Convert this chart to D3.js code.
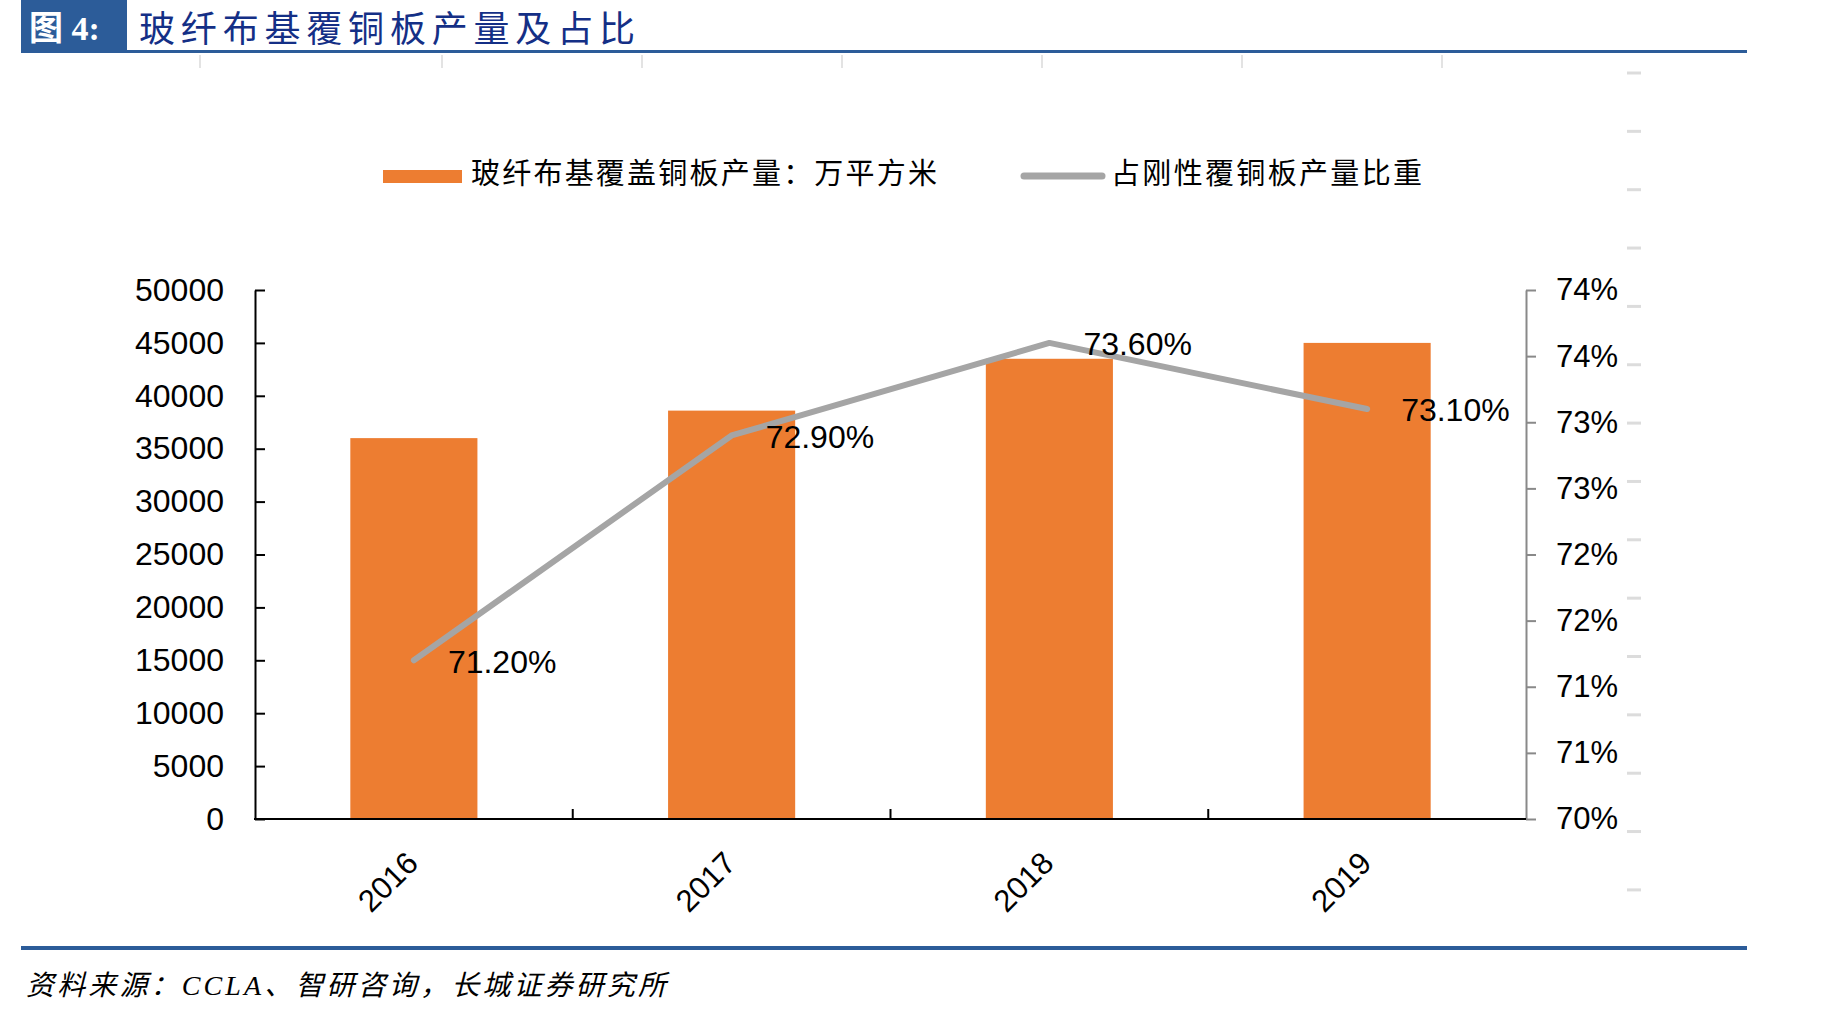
<!DOCTYPE html>
<html>
<head>
<meta charset="utf-8">
<script src="https://cdn.jsdelivr.net/npm/d3@7"></script>
<style>
  body { margin: 0; background: #fff; }
  svg { display: block; }
</style>
</head>
<body>
<div id="chart"></div>
<script>
// data
const years = ["2016", "2017", "2018", "2019"];
const output = [36000, 38600, 43500, 45000];          // 万平方米
const share = [0.712, 0.729, 0.736, 0.731];
const shareLabels = ["71.20%", "72.90%", "73.60%", "73.10%"];
const leftTicks = [0, 5000, 10000, 15000, 20000, 25000, 30000, 35000, 40000, 45000, 50000];
const rightTicks = [0.700, 0.705, 0.710, 0.715, 0.720, 0.725, 0.730, 0.735, 0.740];
const rightTickLabels = ["70%", "71%", "71%", "72%", "72%", "73%", "73%", "74%", "74%"];

const W = 1843, H = 1016;
const cjk = "'Noto Sans CJK SC', sans-serif";
const latin = "'Liberation Sans', Arial, 'Noto Sans CJK SC', sans-serif";

let svg = d3.select("#chart")
  .append("svg")
  .attr("width", W)
  .attr("height", H);

svg.append("rect").attr("width", W).attr("height", H).attr("fill", "#fff");

// header
svg.append("rect").attr("x", 21).attr("y", 0).attr("width", 106).attr("height", 52).attr("fill", "#2C5C99");
svg.append("text")
  .attr("x", 29).attr("y", 40)
  .attr("fill", "#fff")
  .style("font-family", "'Liberation Serif', 'Noto Sans CJK SC', serif")
  .style("font-size", "34px")
  .style("font-weight", "bold")
  .text("图 4:");
svg.append("text")
  .attr("x", 139).attr("y", 42)
  .attr("fill", "#142F86")
  .style("font-family", cjk)
  .style("font-size", "36px")
  .attr("textLength", 496)
  .text("玻纤布基覆铜板产量及占比");
svg.append("rect").attr("x", 21).attr("y", 50).attr("width", 1726).attr("height", 3).attr("fill", "#2C5C99");

// faint frame marks left over from the source picture
let topMarks = [200].concat(d3.range(442, 1443, 200));
svg.selectAll(".top-mark").data(topMarks).enter().append("line")
  .attr("x1", d => d).attr("x2", d => d)
  .attr("y1", 55).attr("y2", 68)
  .attr("stroke", "#e3e3e3").attr("stroke-width", 2);
svg.selectAll(".right-mark").data(d3.range(15)).enter().append("line")
  .attr("x1", 1627).attr("x2", 1641)
  .attr("y1", i => 73 + i * 58.35).attr("y2", i => 73 + i * 58.35)
  .attr("stroke", "#dcdcdc").attr("stroke-width", 3);

// scales
let margin = {left: 255, right: 1526, top: 290, bottom: 819};

let x = d3.scaleBand()
  .domain(years)
  .range([margin.left, margin.right])
  .paddingInner(0.6)
  .paddingOuter(0.3);

let yL = d3.scaleLinear().domain([0, 50000]).range([margin.bottom, margin.top]);
let yR = d3.scaleLinear().domain([0.70, 0.74]).range([margin.bottom, margin.top]);

// bars
svg.selectAll(".bar").data(years).enter().append("rect")
  .attr("x", d => x(d))
  .attr("y", (d, i) => yL(output[i]))
  .attr("width", x.bandwidth())
  .attr("height", (d, i) => yL(0) - yL(output[i]))
  .attr("fill", "#ED7D31");

// left axis
let gl = svg.append("g")
  .attr("transform", "translate(" + margin.left + ",0)")
  .call(d3.axisLeft(yL).tickValues(leftTicks).tickSizeInner(-10).tickSizeOuter(0).tickPadding(31)
    .tickFormat(d3.format("d")));
gl.select(".domain").attr("stroke", "#000").attr("stroke-width", 2);
gl.selectAll(".tick line").attr("stroke", "#000").attr("stroke-width", 2);
gl.selectAll(".tick text")
  .attr("fill", "#000")
  .style("font-family", latin)
  .style("font-size", "32px");

// right axis
let gr = svg.append("g")
  .attr("transform", "translate(" + margin.right + ",0)")
  .call(d3.axisRight(yR).tickValues(rightTicks).tickSizeInner(10).tickSizeOuter(0).tickPadding(20)
    .tickFormat((d, i) => rightTickLabels[i]));
gr.select(".domain").attr("stroke", "#898989").attr("stroke-width", 2);
gr.selectAll(".tick line").attr("stroke", "#898989").attr("stroke-width", 2);
gr.selectAll(".tick text")
  .attr("fill", "#000")
  .style("font-family", latin)
  .style("font-size", "31px");

// bottom axis
svg.append("line")
  .attr("x1", margin.left - 1).attr("x2", margin.right)
  .attr("y1", margin.bottom).attr("y2", margin.bottom)
  .attr("stroke", "#000").attr("stroke-width", 2);
svg.selectAll(".cat-tick").data(years.slice(1)).enter().append("line")
  .attr("x1", d => x(d) - x.step() * x.paddingOuter())
  .attr("x2", d => x(d) - x.step() * x.paddingOuter())
  .attr("y1", margin.bottom).attr("y2", margin.bottom - 10)
  .attr("stroke", "#000").attr("stroke-width", 2);
svg.selectAll(".cat-label").data(years).enter().append("text")
  .attr("transform", d => "translate(" + (x(d) + x.bandwidth() / 2 + 6) + "," + (margin.bottom + 46) + ") rotate(-45)")
  .attr("text-anchor", "end")
  .attr("fill", "#000")
  .style("font-family", latin)
  .style("font-size", "31px")
  .text(d => d);

// share line
let cx = d => x(d) + x.bandwidth() / 2;
svg.append("path")
  .datum(years)
  .attr("fill", "none")
  .attr("stroke", "#A5A5A5")
  .attr("stroke-width", 6)
  .attr("stroke-linecap", "round")
  .attr("stroke-linejoin", "round")
  .attr("d", d3.line()
    .x(d => cx(d))
    .y((d, i) => yR(share[i]))
  );

svg.selectAll(".share-label").data(years).enter().append("text")
  .attr("x", d => cx(d) + 34)
  .attr("y", (d, i) => yR(share[i]) + 4)
  .attr("dominant-baseline", "middle")
  .attr("fill", "#000")
  .style("font-family", latin)
  .style("font-size", "32px")
  .text((d, i) => shareLabels[i]);

// legend
svg.append("rect").attr("x", 383).attr("y", 170).attr("width", 79).attr("height", 13).attr("fill", "#ED7D31");
svg.append("text")
  .attr("x", 471).attr("y", 176)
  .attr("dominant-baseline", "middle")
  .attr("fill", "#000")
  .style("font-family", cjk)
  .style("font-size", "29px")
  .attr("textLength", 466)
  .text("玻纤布基覆盖铜板产量：万平方米");
svg.append("line")
  .attr("x1", 1024).attr("x2", 1102).attr("y1", 176).attr("y2", 176)
  .attr("stroke", "#A5A5A5").attr("stroke-width", 7).attr("stroke-linecap", "round");
svg.append("text")
  .attr("x", 1111).attr("y", 176)
  .attr("dominant-baseline", "middle")
  .attr("fill", "#000")
  .style("font-family", cjk)
  .style("font-size", "29px")
  .attr("textLength", 311)
  .text("占刚性覆铜板产量比重");

// footer
svg.append("rect").attr("x", 21).attr("y", 946).attr("width", 1726).attr("height", 4).attr("fill", "#2C5C99");
svg.append("text")
  .attr("x", 26).attr("y", 995)
  .attr("fill", "#000")
  .style("font-family", "'Liberation Serif', 'Noto Sans CJK SC', serif")
  .style("font-style", "italic")
  .style("font-size", "28px")
  .attr("textLength", 640)
  .text("资料来源：CCLA、智研咨询，长城证券研究所");
</script>
</body>
</html>
